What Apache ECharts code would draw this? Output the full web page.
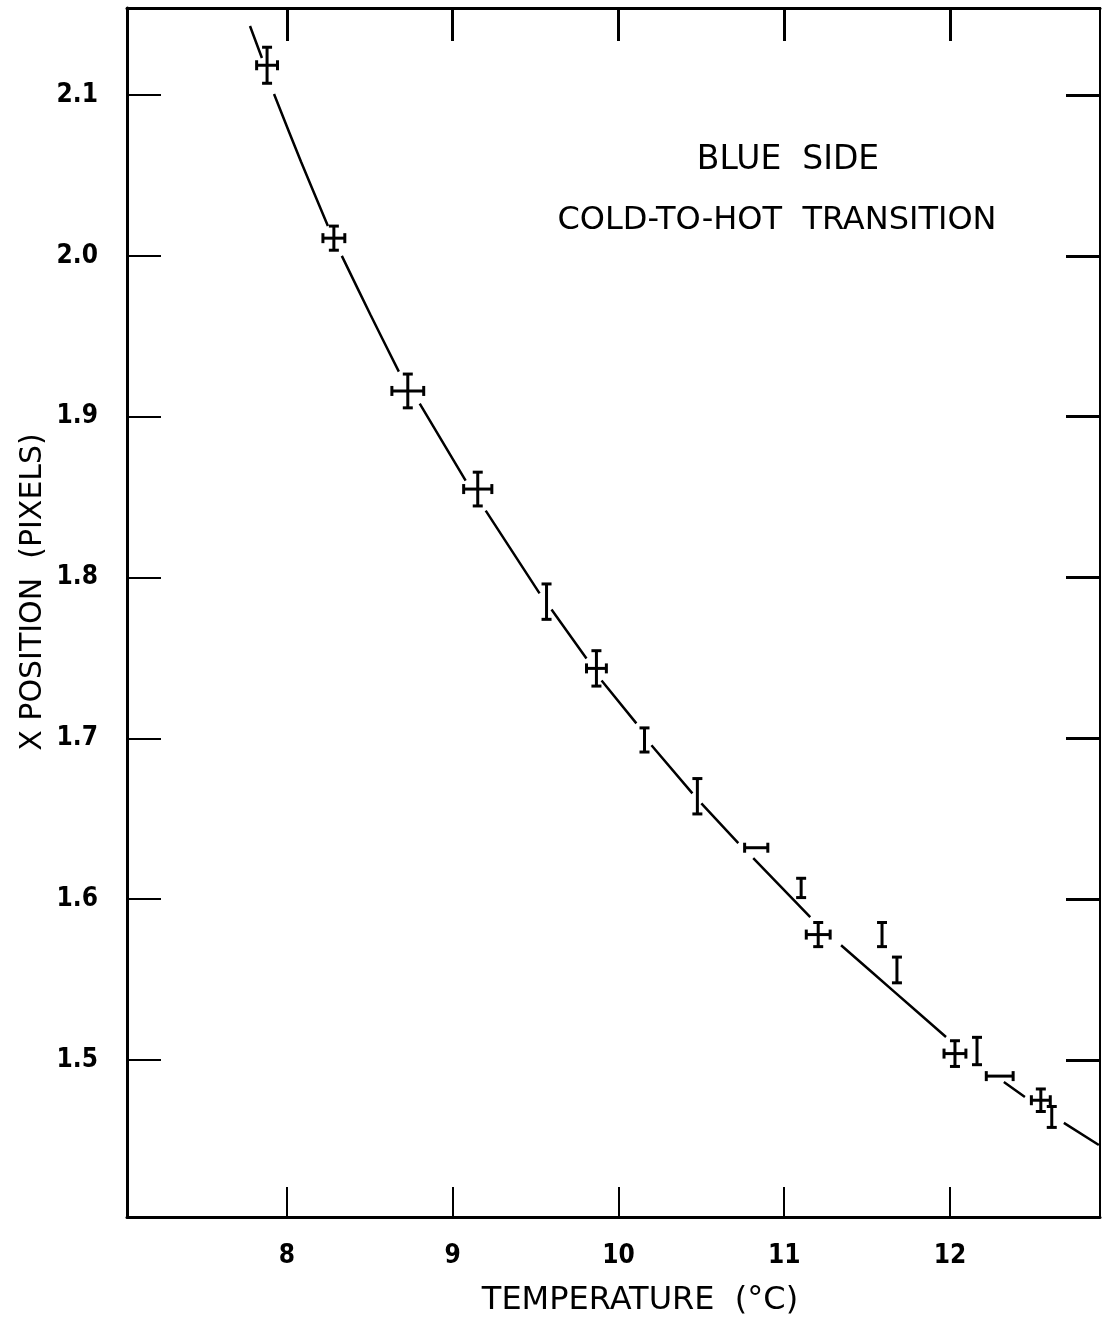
<!DOCTYPE html>
<html>
<head>
<meta charset="utf-8">
<title>Blue side - cold-to-hot transition</title>
<script src="https://cdn.jsdelivr.net/npm/echarts@6/dist/echarts.min.js"></script>
<style>
  html, body { margin: 0; padding: 0; background: #fff; }
  #container { width: 1102px; height: 1340px; }
</style>
</head>
<body>
<div id="container"></div>
<script>
// measured points (temperature in C, x position in pixels) with their error bars
var temps    = [7.88, 8.283, 8.729, 9.151, 9.566, 9.867, 10.157, 10.476, 10.831, 11.102, 11.205, 11.59, 11.68, 12.03, 12.163, 12.30, 12.548, 12.614];
var xPos     = [2.1185, 2.011, 1.916, 1.855, 1.785, 1.7435, 1.699, 1.664, 1.632, 1.607, 1.578, 1.578, 1.556, 1.504, 1.5056, 1.490, 1.475, 1.4646];
var tempErr  = [0.063, 0.066, 0.096, 0.085, 0, 0.06, 0, 0, 0.07, 0, 0.072, 0, 0, 0.066, 0, 0.081, 0.057, 0];
var xPosErr  = [0.0112, 0.0075, 0.0105, 0.0105, 0.011, 0.011, 0.0075, 0.011, 0, 0.006, 0.0075, 0.0075, 0.008, 0.008, 0.0085, 0, 0.007, 0.0065];

// hand drawn fit curve, broken where it meets the markers (null = gap)
var curveTemp = [7.777, 7.849, null, 7.922, 8.085, 8.247, null, 8.331, 8.503, 8.675, null, 8.801, 9.078, null,
                 9.199, 9.524, null, 9.596, 9.807, null, 9.898, 10.108, null, 10.199, 10.446, null,
                 10.50, 10.723, null, 10.813, 11.157, null, 11.343, 11.663, 11.976, null,
                 12.325, 12.452, null, 12.687, 12.898];
var curveXPos = [2.1429, 2.1230, null, 2.1006, 2.0585, 2.0186, null, 2.0000, 1.9635, 1.9280, null, 1.9081, 1.8602, null,
                 1.8416, 1.7901, null, 1.7801, 1.7497, null, 1.7360, 1.7093, null, 1.6957, 1.6658, null,
                 1.6596, 1.6348, null, 1.6255, 1.5888, null, 1.5714, 1.5425, 1.5143, null,
                 1.4863, 1.4770, null, 1.4609, 1.4472];

var tempTicks = [8, 9, 10, 11, 12];
var posTicks = [1.5, 1.6, 1.7, 1.8, 1.9, 2.0, 2.1];

var FONT = 'DejaVu Sans';
var NUM_FONT = '"DejaVu Sans Condensed", "DejaVu Sans"';

let dom = document.getElementById('container');
let myChart = echarts.init(dom, null, {renderer: 'canvas'});

let pointData = temps.map(function (t, i) {
  return [t, xPos[i], tempErr[i], xPosErr[i]];
});
let curveData = curveTemp.map(function (t, i) {
  return t === null ? '-' : [t, curveXPos[i]];
});

// cross / I-bar / H-bar markers, drawn from the error values
function renderErrorBar(params, api) {
  let x = api.value(0), y = api.value(1), ex = api.value(2), ey = api.value(3);
  let style = {stroke: '#000', lineWidth: 3};
  let children = [];
  let cap = 5;
  if (ey > 0) {
    let top = api.coord([x, y + ey]);
    let bot = api.coord([x, y - ey]);
    children.push({type: 'line', shape: {x1: top[0], y1: top[1], x2: bot[0], y2: bot[1]}, style: style});
    children.push({type: 'line', shape: {x1: top[0] - cap, y1: top[1], x2: top[0] + cap, y2: top[1]}, style: style});
    children.push({type: 'line', shape: {x1: bot[0] - cap, y1: bot[1], x2: bot[0] + cap, y2: bot[1]}, style: style});
  }
  if (ex > 0) {
    let lft = api.coord([x - ex, y]);
    let rgt = api.coord([x + ex, y]);
    children.push({type: 'line', shape: {x1: lft[0], y1: lft[1], x2: rgt[0], y2: rgt[1]}, style: style});
    children.push({type: 'line', shape: {x1: lft[0], y1: lft[1] - cap, x2: lft[0], y2: lft[1] + cap}, style: style});
    children.push({type: 'line', shape: {x1: rgt[0], y1: rgt[1] - cap, x2: rgt[0], y2: rgt[1] + cap}, style: style});
  }
  return {type: 'group', children: children};
}

let axisLine = {show: true, lineStyle: {color: '#000', width: 3}};

option = {
  backgroundColor: '#fff',
  animation: false,
  grid: {left: 127, top: 8, right: 2, bottom: 123, containLabel: false},
  xAxis: [{
    type: 'value',
    min: 7.035,
    max: 12.905,
    position: 'bottom',
    axisLine: axisLine,
    axisTick: {show: true, inside: true, length: 30, lineStyle: {color: '#000', width: 2}, customValues: tempTicks},
    axisLabel: {
      show: true, margin: 26, color: '#000', fontFamily: NUM_FONT, fontSize: 26, fontWeight: 'bold',
      customValues: tempTicks,
      formatter: function (v) { return String(v); }
    },
    splitLine: {show: false}
  }, {
    type: 'value',
    min: 7.035,
    max: 12.905,
    position: 'top',
    axisLine: axisLine,
    axisTick: {show: true, inside: true, length: 33, lineStyle: {color: '#000', width: 3}, customValues: tempTicks},
    axisLabel: {show: false},
    splitLine: {show: false}
  }],
  yAxis: [{
    type: 'value',
    min: 1.4024,
    max: 2.1541,
    position: 'left',
    axisLine: axisLine,
    axisTick: {show: true, inside: true, length: 34, lineStyle: {color: '#000', width: 2}, customValues: posTicks},
    axisLabel: {
      show: true, margin: 29, color: '#000', fontFamily: NUM_FONT, fontSize: 26, fontWeight: 'bold',
      customValues: posTicks,
      formatter: function (v) { return v.toFixed(1); }
    },
    splitLine: {show: false}
  }, {
    type: 'value',
    min: 1.4024,
    max: 2.1541,
    position: 'right',
    axisLine: {show: true, lineStyle: {color: '#000', width: 2}},
    axisTick: {show: true, inside: true, length: 34, lineStyle: {color: '#000', width: 3}, customValues: posTicks},
    axisLabel: {show: false},
    splitLine: {show: false}
  }],
  series: [{
    name: 'fit',
    type: 'line',
    data: curveData,
    smooth: 0.3,
    connectNulls: false,
    symbol: 'none',
    lineStyle: {color: '#000', width: 2.5}
  }, {
    name: 'points',
    type: 'custom',
    data: pointData,
    renderItem: renderErrorBar,
    encode: {x: 0, y: 1},
    z: 5
  }],
  graphic: [{
    type: 'text', x: 788, y: 160,
    style: {text: 'BLUE  SIDE', font: 'normal 33px "DejaVu Sans"', fill: '#000', align: 'center', verticalAlign: 'middle'}
  }, {
    type: 'text', x: 777, y: 221,
    style: {text: 'COLD-TO-HOT  TRANSITION', font: 'normal 32px "DejaVu Sans"', fill: '#000', align: 'center', verticalAlign: 'middle'}
  }, {
    type: 'text', x: 640, y: 1301,
    style: {text: 'TEMPERATURE  (°C)', font: 'normal 32px "DejaVu Sans"', fill: '#000', align: 'center', verticalAlign: 'middle'}
  }, {
    type: 'text', x: 33, y: 592, rotation: Math.PI / 2,
    style: {text: 'X POSITION  (PIXELS)', font: 'normal 30px "DejaVu Sans"', fill: '#000', align: 'center', verticalAlign: 'middle'}
  }]
};
myChart.setOption(option, true);
</script>
</body>
</html>
